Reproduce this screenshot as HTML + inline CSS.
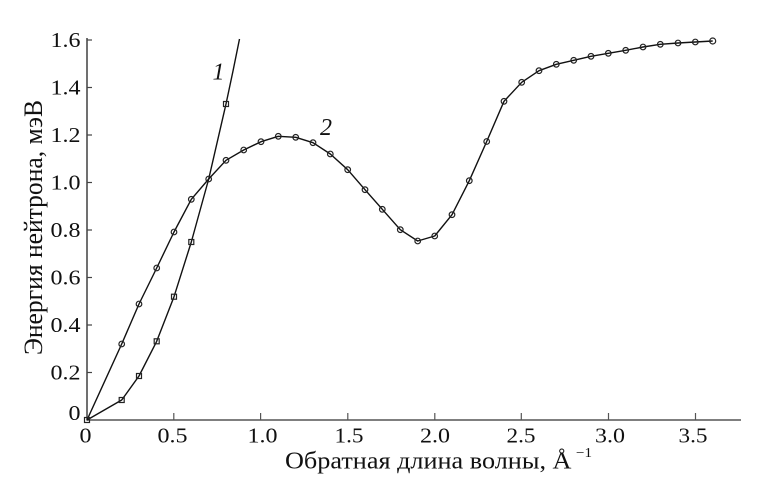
<!DOCTYPE html>
<html>
<head>
<meta charset="utf-8">
<style>
html,body{margin:0;padding:0;background:#fff;}
svg{display:block;}
text{font-family:"Liberation Serif","Noto Serif CJK SC",serif;fill:#111;}
</style>
</head>
<body>
<svg width="777" height="488" viewBox="0 0 777 488" xmlns="http://www.w3.org/2000/svg">
  <rect width="777" height="488" fill="#fff"/>
  <!-- axes -->
  <line x1="87" y1="38" x2="87" y2="420.5" stroke="#333" stroke-width="1.4"/>
  <line x1="86.5" y1="420" x2="741" y2="420" stroke="#555" stroke-width="1.4"/>
  <!-- y ticks -->
  <g stroke="#444" stroke-width="1.2">
    <line x1="87" y1="372.5" x2="92" y2="372.5"/>
    <line x1="87" y1="325" x2="92" y2="325"/>
    <line x1="87" y1="277.5" x2="92" y2="277.5"/>
    <line x1="87" y1="230" x2="92" y2="230"/>
    <line x1="87" y1="182.5" x2="92" y2="182.5"/>
    <line x1="87" y1="135" x2="92" y2="135"/>
    <line x1="87" y1="87.5" x2="92" y2="87.5"/>
    <line x1="87" y1="40" x2="92" y2="40"/>
  </g>
  <!-- x ticks -->
  <g stroke="#555" stroke-width="1.2">
    <line x1="173.8" y1="420" x2="173.8" y2="413"/>
    <line x1="260.6" y1="420" x2="260.6" y2="413"/>
    <line x1="347.8" y1="420" x2="347.8" y2="413"/>
    <line x1="434.8" y1="420" x2="434.8" y2="413"/>
    <line x1="521.3" y1="420" x2="521.3" y2="413"/>
    <line x1="608.5" y1="420" x2="608.5" y2="413"/>
    <line x1="695.5" y1="420" x2="695.5" y2="413"/>
  </g>
  <!-- y tick labels -->
  <g font-size="21" text-anchor="end">
    <text x="80.5" y="420" textLength="12" lengthAdjust="spacingAndGlyphs">0</text>
    <text x="80.5" y="379.5" textLength="30" lengthAdjust="spacingAndGlyphs">0.2</text>
    <text x="80.5" y="332" textLength="30" lengthAdjust="spacingAndGlyphs">0.4</text>
    <text x="80.5" y="284.5" textLength="30" lengthAdjust="spacingAndGlyphs">0.6</text>
    <text x="80.5" y="237" textLength="30" lengthAdjust="spacingAndGlyphs">0.8</text>
    <text x="80.5" y="189.5" textLength="30" lengthAdjust="spacingAndGlyphs">1.0</text>
    <text x="80.5" y="142" textLength="30" lengthAdjust="spacingAndGlyphs">1.2</text>
    <text x="80.5" y="94.5" textLength="30" lengthAdjust="spacingAndGlyphs">1.4</text>
    <text x="80.5" y="47" textLength="30" lengthAdjust="spacingAndGlyphs">1.6</text>
  </g>
  <!-- x tick labels -->
  <g font-size="21" text-anchor="middle">
    <text x="85.5" y="442.5" textLength="12" lengthAdjust="spacingAndGlyphs">0</text>
    <text x="172.5" y="442.5" textLength="30" lengthAdjust="spacingAndGlyphs">0.5</text>
    <text x="262.5" y="442.5" textLength="30" lengthAdjust="spacingAndGlyphs">1.0</text>
    <text x="349" y="442.5" textLength="29" lengthAdjust="spacingAndGlyphs">1.5</text>
    <text x="435" y="442.5" textLength="30" lengthAdjust="spacingAndGlyphs">2.0</text>
    <text x="521" y="442.5" textLength="29" lengthAdjust="spacingAndGlyphs">2.5</text>
    <text x="610" y="442.5" textLength="30" lengthAdjust="spacingAndGlyphs">3.0</text>
    <text x="693" y="442.5" textLength="29" lengthAdjust="spacingAndGlyphs">3.5</text>
  </g>
  <!-- axis titles -->
  <text x="285" y="468.5" font-size="24" textLength="286.5" lengthAdjust="spacingAndGlyphs">Обратная длина волны, Å</text>
  <text x="576" y="457" font-size="14" textLength="16" lengthAdjust="spacingAndGlyphs">−1</text>
  <g transform="translate(42,227.5) scale(1.12,1) rotate(-90)">
    <text x="0" y="0" font-size="24" text-anchor="middle" textLength="255" lengthAdjust="spacingAndGlyphs">Энергия нейтрона, мэВ</text>
  </g>
  <!-- curve labels -->
  <text x="212.5" y="79.5" font-size="24" font-style="italic">1</text>
  <text x="320" y="135" font-size="24" font-style="italic">2</text>

  <!-- curve 1 -->
  <polyline fill="none" stroke="#111" stroke-width="1.4" stroke-linejoin="round"
    points="87,420 121.7,400 139,376 156.7,341.3 174,296.7 191.3,242 208.7,179 226,104 233,71 239.5,39"/>
  <!-- curve 2 -->
  <polyline fill="none" stroke="#111" stroke-width="1.4" stroke-linejoin="round"
    points="87,420 121.7,344 139,304 156.7,268 174,232 191.3,199.3 208.7,179 226,160.3 243.7,150 261,141.7 278.3,136.3 295.7,137.3 313,142.7 330.3,154 347.7,169.7 365,189.7 382.3,209.3 400.3,229.7 417.7,241 434.7,236 452,214.7 469.3,180.7 486.7,141.5 504,101.3 521.7,82.3 539,70.7 556.3,64.3 573.7,60.3 591,56.3 608.3,53.3 625.7,50.3 643,47 660.3,44.3 678,43 695.3,42 712.7,41"/>

  <!-- curve 1 markers -->
  <g fill="none" stroke="#222" stroke-width="1.2">
    <rect x="84.5" y="417.5" width="5" height="5"/>
    <rect x="119.2" y="397.5" width="5" height="5"/>
    <rect x="136.5" y="373.5" width="5" height="5"/>
    <rect x="154.2" y="338.8" width="5" height="5"/>
    <rect x="171.5" y="294.2" width="5" height="5"/>
    <rect x="188.8" y="239.5" width="5" height="5"/>
    <rect x="223.5" y="101.5" width="5" height="5"/>
  </g>
  <!-- curve 2 markers -->
  <g fill="none" stroke="#222" stroke-width="1.2">
    <circle cx="121.7" cy="344" r="2.8"/>
    <circle cx="139" cy="304" r="2.8"/>
    <circle cx="156.7" cy="268" r="2.8"/>
    <circle cx="174" cy="232" r="2.8"/>
    <circle cx="191.3" cy="199.3" r="2.8"/>
    <circle cx="208.7" cy="179" r="2.8"/>
    <circle cx="226" cy="160.3" r="2.8"/>
    <circle cx="243.7" cy="150" r="2.8"/>
    <circle cx="261" cy="141.7" r="2.8"/>
    <circle cx="278.3" cy="136.3" r="2.8"/>
    <circle cx="295.7" cy="137.3" r="2.8"/>
    <circle cx="313" cy="142.7" r="2.8"/>
    <circle cx="330.3" cy="154" r="2.8"/>
    <circle cx="347.7" cy="169.7" r="2.8"/>
    <circle cx="365" cy="189.7" r="2.8"/>
    <circle cx="382.3" cy="209.3" r="2.8"/>
    <circle cx="400.3" cy="229.7" r="2.8"/>
    <circle cx="417.7" cy="241" r="2.8"/>
    <circle cx="434.7" cy="236" r="2.8"/>
    <circle cx="452" cy="214.7" r="2.8"/>
    <circle cx="469.3" cy="180.7" r="2.8"/>
    <circle cx="486.7" cy="141.5" r="2.8"/>
    <circle cx="504" cy="101.3" r="2.8"/>
    <circle cx="521.7" cy="82.3" r="2.8"/>
    <circle cx="539" cy="70.7" r="2.8"/>
    <circle cx="556.3" cy="64.3" r="2.8"/>
    <circle cx="573.7" cy="60.3" r="2.8"/>
    <circle cx="591" cy="56.3" r="2.8"/>
    <circle cx="608.3" cy="53.3" r="2.8"/>
    <circle cx="625.7" cy="50.3" r="2.8"/>
    <circle cx="643" cy="47" r="2.8"/>
    <circle cx="660.3" cy="44.3" r="2.8"/>
    <circle cx="678" cy="43" r="2.8"/>
    <circle cx="695.3" cy="42" r="2.8"/>
    <circle cx="712.7" cy="41" r="3"/>
  </g>
</svg>
</body>
</html>
